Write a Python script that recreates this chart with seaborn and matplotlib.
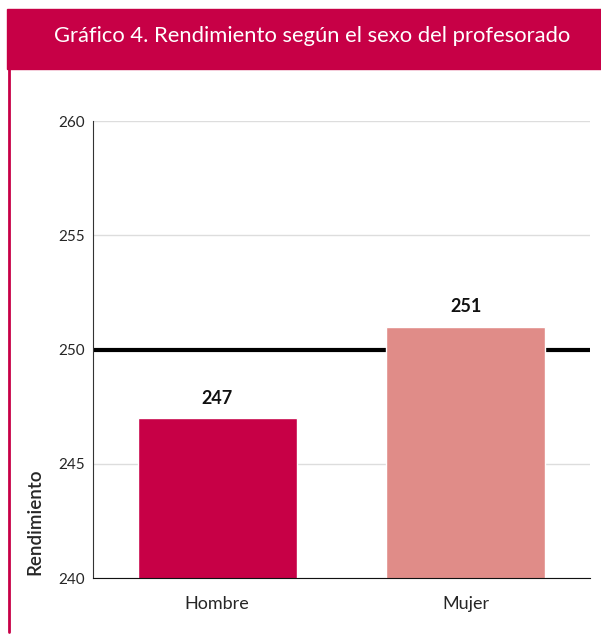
import matplotlib
matplotlib.use("Agg")
import matplotlib.pyplot as plt
import seaborn as sns
import pandas as pd
from matplotlib.patches import Rectangle
from matplotlib.lines import Line2D

# data
sexo = ["Hombre", "Mujer"]
rendimiento = [247, 251]
colores = ["#C70046", "#E08C88"]
referencia = 250
yticks = [240, 245, 250, 255, 260]
titulo = "Gráfico 4. Rendimiento según el sexo del profesorado"

df = pd.DataFrame({"sexo": sexo, "rendimiento": rendimiento})

sns.set_style("white")
plt.rcParams["font.family"] = ["Lato", "DejaVu Sans"]

fig = plt.figure(figsize=(6.01, 6.37), dpi=100)
ax = fig.add_axes([0.1547, 0.0926, 0.827, 0.7174])

sns.barplot(data=df, x="sexo", y="rendimiento", hue="sexo", palette=colores,
            width=0.64, saturation=1, legend=False, ax=ax, zorder=2)

ax.set_xlim(-0.5, 1.5)
ax.set_ylim(240, 260)
ax.set_yticks(yticks)
ax.yaxis.grid(True, color="#dddddd", linewidth=1, zorder=0)
ax.set_axisbelow(True)
ax.axhline(referencia, color="black", linewidth=3, zorder=1)

for i, v in enumerate(rendimiento):
    ax.text(i, v + 0.5, str(v), ha="center", va="bottom",
            fontsize=13, fontweight="bold", color="#111111")

for s in ["top", "right"]:
    ax.spines[s].set_visible(False)
ax.spines["left"].set_color("#333333")
ax.spines["bottom"].set_color("#111111")
ax.tick_params(axis="y", length=0, labelsize=11, pad=6)
ax.tick_params(axis="x", length=0, labelsize=13, pad=13)
ax.set_xlabel("")
ax.set_ylabel("Rendimiento", fontsize=13.5, fontweight="semibold")
ax.yaxis.set_label_coords(-0.099, 0.123)

# header band and left border
fig.patches.append(Rectangle((7 / 601, 1 - 69 / 637), 594 / 601, 60 / 637,
                             transform=fig.transFigure, color="#C70046", zorder=0))
fig.lines.append(Line2D([8.5 / 601, 8.5 / 601], [1 - 69 / 637, 1 - 632 / 637],
                        transform=fig.transFigure, color="#C70046", linewidth=2))
fig.text(312 / 601, 1 - 36 / 637, titulo, ha="center", va="center",
         color="white", fontsize=15.8)

fig.savefig("out.png", dpi=100)
